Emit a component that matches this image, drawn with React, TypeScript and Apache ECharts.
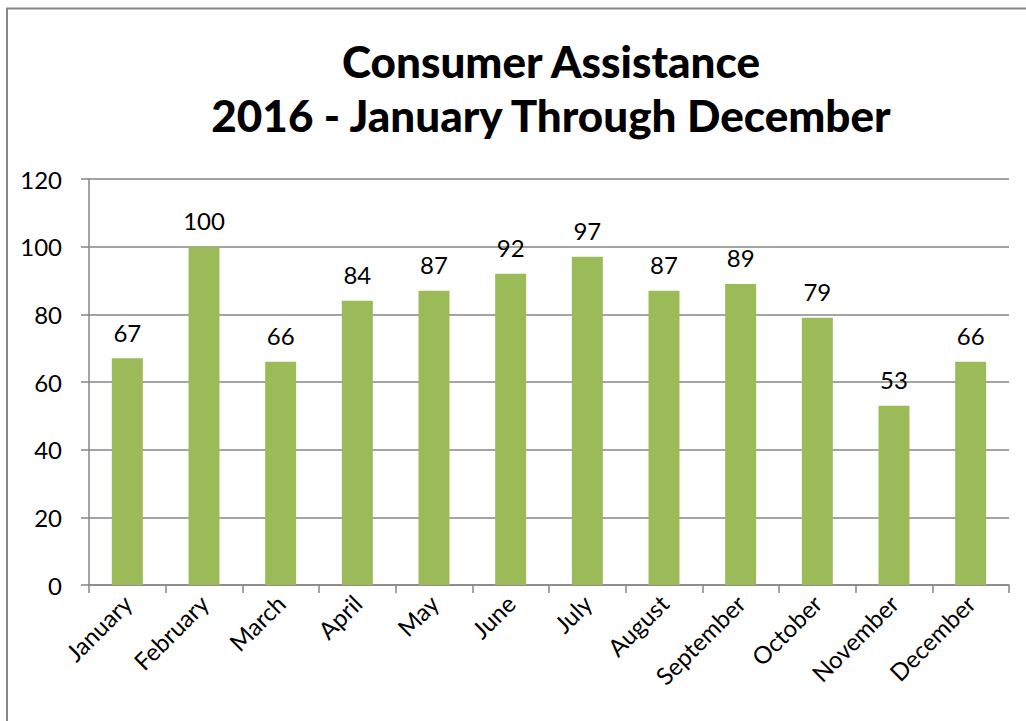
import React, { useEffect, useRef } from "react";
import * as echarts from "echarts";

const categories = [
  "January", "February", "March", "April", "May", "June",
  "July", "August", "September", "October", "November", "December",
];
const values = [67, 100, 66, 84, 87, 92, 97, 87, 89, 79, 53, 66];
const titleLines = ["Consumer Assistance", "2016 - January Through December"];
const yTicks = { min: 0, max: 120, interval: 20 };

const FONT = "Lato, 'Open Sans', sans-serif";
const GRAY = "#868686";
const LABEL_SIZE = 24;

export default function App() {
  const ref = useRef<HTMLDivElement>(null);
  useEffect(() => {
    if (!ref.current) return;
    const chart = echarts.init(ref.current, null, { renderer: "svg" });
    chart.setOption({
      animation: false,
      backgroundColor: "#ffffff",
      textStyle: { fontFamily: FONT },
      graphic: [
        {
          type: "rect",
          shape: { x: 7, y: 8.5, width: 1100, height: 800 },
          style: { fill: "none", stroke: GRAY, lineWidth: 2 },
          silent: true,
        },
        {
          type: "text",
          x: 551,
          y: 61,
          style: {
            text: titleLines[0],
            fontFamily: FONT,
            fontWeight: 900,
            fontSize: 44,
            fill: "#000",
            textAlign: "center",
            textVerticalAlign: "middle",
          },
        },
        {
          type: "text",
          x: 551,
          y: 115,
          style: {
            text: titleLines[1],
            fontFamily: FONT,
            fontWeight: 900,
            fontSize: 44,
            fill: "#000",
            textAlign: "center",
            textVerticalAlign: "middle",
          },
        },
      ],
      grid: { left: 89, right: 17, top: 179, bottom: 136, containLabel: false },
      xAxis: {
        type: "category",
        data: categories,
        boundaryGap: true,
        axisLine: { show: true, lineStyle: { color: GRAY, width: 1.5 } },
        axisTick: { show: true, length: 8, interval: 0, alignWithLabel: false, lineStyle: { color: GRAY, width: 1.5 } },
        axisLabel: {
          interval: 0,
          rotate: 45,
          margin: 14,
          color: "#000",
          fontSize: LABEL_SIZE,
          fontFamily: FONT,
        },
        splitLine: { show: false },
      },
      yAxis: {
        type: "value",
        min: yTicks.min,
        max: yTicks.max,
        interval: yTicks.interval,
        axisLine: { show: true, lineStyle: { color: GRAY, width: 1.5 } },
        axisTick: { show: true, length: 8, lineStyle: { color: GRAY, width: 1.5 } },
        axisLabel: { margin: 27, color: "#000", fontSize: LABEL_SIZE, fontFamily: FONT },
        splitLine: { show: true, lineStyle: { color: GRAY, width: 1.5 } },
      },
      series: [
        {
          type: "bar",
          data: values,
          barWidth: 31,
          itemStyle: { color: "#9BBB59" },
          label: {
            show: true,
            position: "top",
            distance: 14,
            color: "#000",
            fontSize: LABEL_SIZE,
            fontFamily: FONT,
          },
        },
      ],
    });
    return () => chart.dispose();
  }, []);
  return (
    <div
      ref={ref}
      style={{ position: "fixed", left: 0, top: 0, width: 1026, height: 721 }}
    />
  );
}
